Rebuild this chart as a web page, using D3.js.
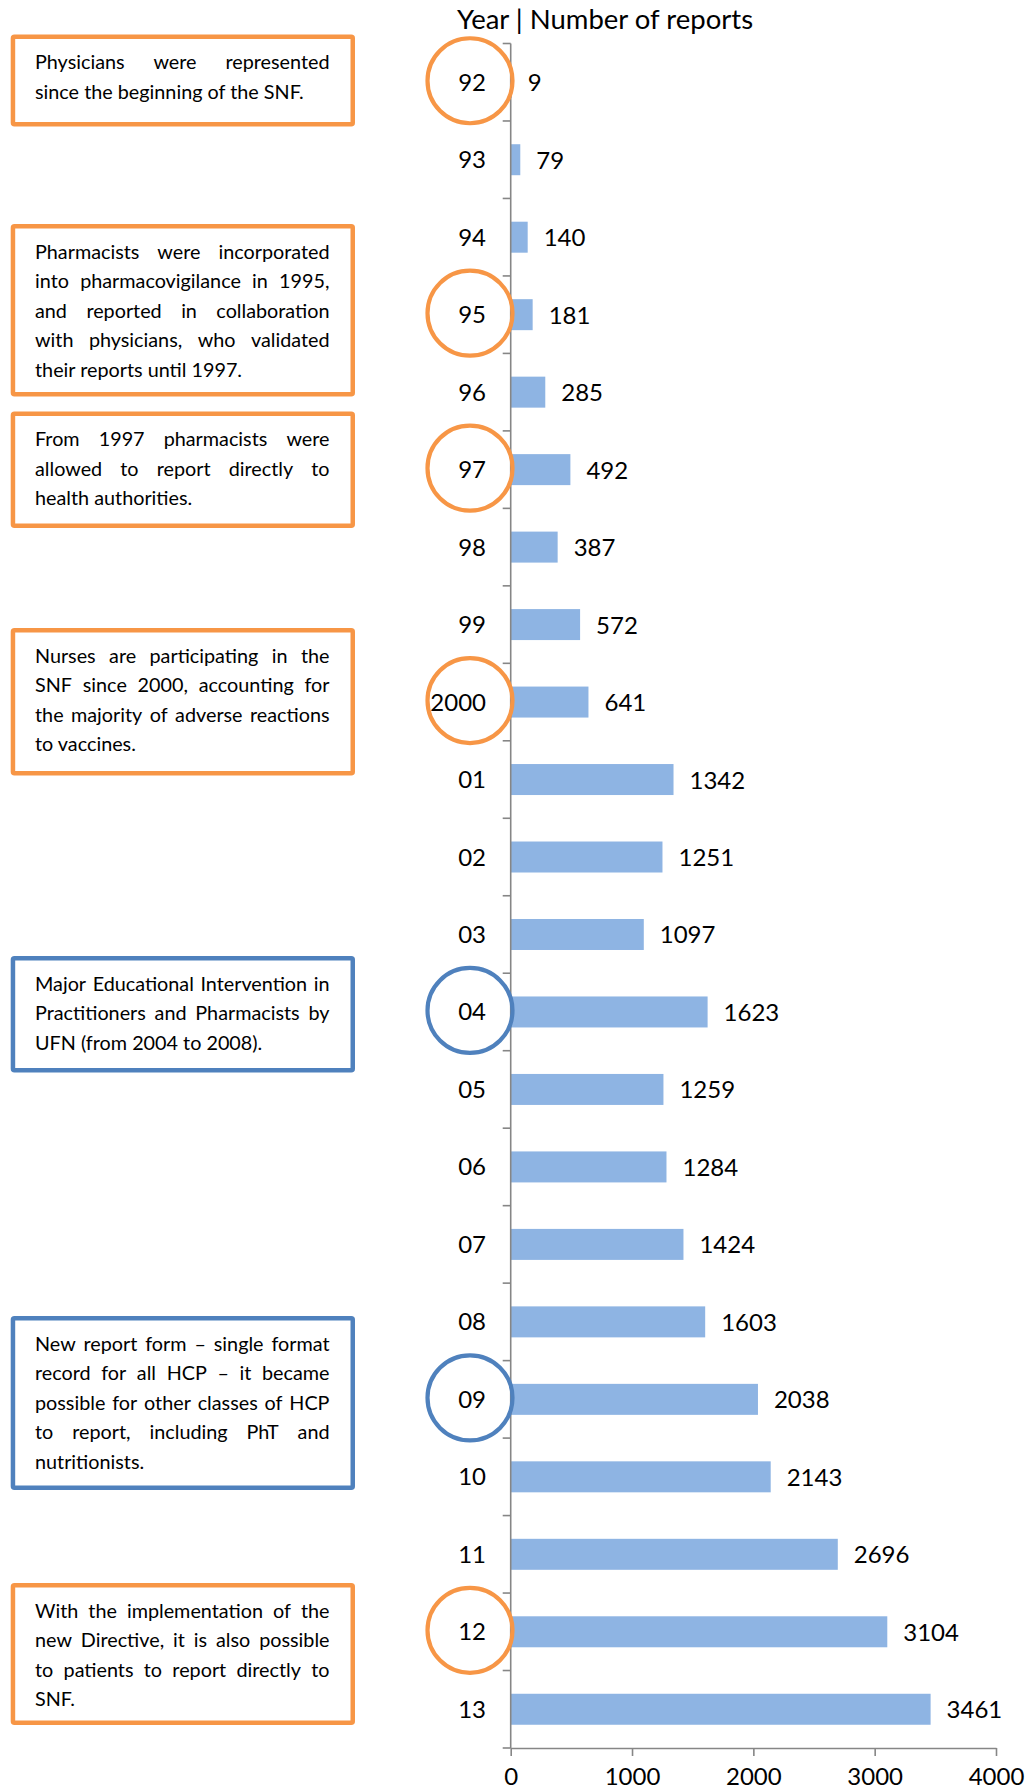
<!DOCTYPE html>
<html>
<head>
<meta charset="utf-8">
<script src="https://cdn.jsdelivr.net/npm/d3@7"></script>
<style>
  html, body { margin: 0; padding: 0; background: #fff; }
  svg { display: block; }
  text { font-family: Lato, "Open Sans", sans-serif; fill: #000; }
</style>
</head>
<body>
<svg id="chart" width="1027" height="1791"></svg>
<script>
// ---------------- DATA ----------------
const years = ["92","93","94","95","96","97","98","99","2000","01","02","03","04","05","06","07","08","09","10","11","12","13"];
const reports = [9,79,140,181,285,492,387,572,641,1342,1251,1097,1623,1259,1284,1424,1603,2038,2143,2696,3104,3461];
const xTicks = [0,1000,2000,3000,4000];
const axisTitle = "Year | Number of reports";

const noteYears = ["92","95","97","2000","04","09","12"];
const noteLines = [
  ["Physicians were represented", "since the beginning of the SNF."],
  ["Pharmacists were incorporated", "into pharmacovigilance in 1995,", "and reported in collaboration", "with physicians, who validated", "their reports until 1997."],
  ["From 1997 pharmacists were", "allowed to report directly to", "health authorities."],
  ["Nurses are participating in the", "SNF since 2000, accounting for", "the majority of adverse reactions", "to vaccines."],
  ["Major Educational Intervention in", "Practitioners and Pharmacists by", "UFN (from 2004 to 2008)."],
  ["New report form \u2013 single format", "record for all HCP \u2013 it became", "possible for other classes of HCP", "to report, including PhT and", "nutritionists."],
  ["With the implementation of the", "new Directive, it is also possible", "to patients to report directly to", "SNF."]
];

// ---------------- LAYOUT / STYLE ----------------
const ORANGE = "#F79646", BLUE = "#4F81BD", BAR = "#8EB4E3", AXIS = "#868686";
const noteColors = [ORANGE, ORANGE, ORANGE, ORANGE, BLUE, BLUE, ORANGE];
const boxTops =    [34.5, 224, 411.5, 628, 956, 1316, 1583];
const boxBottoms = [126.5, 396.5, 528, 775.5, 1072.5, 1490, 1725];
const boxLeft = 10.7, boxRight = 355, boxStroke = 4.5;
const textLeft = 35, textRight = 329.5, lineH = 29.5, firstBase = 34.5;
const circleX = 470, circleR = 42.5;
const labelSize = 24, noteSize = 19.8, titleSize = 27.5, minGap = 5;

function draw() {
const svg = d3.select("#chart");
svg.selectAll("*").remove();
const defs = svg.append("defs");
const f = defs.append("filter").attr("id","shadow").attr("x","-10%").attr("y","-200%").attr("width","120%").attr("height","500%");
f.append("feDropShadow").attr("dx",1).attr("dy",3).attr("stdDeviation",1.8)
  .attr("flood-color","#000").attr("flood-opacity",0.35);

const y = d3.scaleBand().domain(years).range([43.5, 1748]).paddingInner(0.6).paddingOuter(0.3);
const x = d3.scaleLinear().domain([0, 4000]).range([510.7, 996]);
const step = y.step();
const bandCenter = d => y(d) + y.bandwidth() / 2;

// bars
svg.append("g").selectAll("rect").data(years).join("rect")
  .attr("x", x(0))
  .attr("y", d => y(d))
  .attr("width", (d, i) => x(reports[i]) - x(0))
  .attr("height", y.bandwidth())
  .attr("fill", BAR);

// value labels
svg.append("g").selectAll("text").data(years).join("text")
  .attr("x", (d, i) => x(reports[i]) + 16)
  .attr("y", d => bandCenter(d) + 9)
  .style("font-size", labelSize + "px")
  .text((d, i) => reports[i]);

// category labels
svg.append("g").selectAll("text").data(years).join("text")
  .attr("x", 486)
  .attr("y", d => bandCenter(d) + 8.5)
  .attr("text-anchor", "end")
  .style("font-size", labelSize + "px")
  .text(d => d);

// x axis
const xAxis = svg.append("g").attr("transform", `translate(0,${y.range()[1]})`)
  .call(d3.axisBottom(x).tickValues(xTicks).tickSize(8).tickSizeOuter(0).tickFormat(d3.format("d")));
xAxis.select(".domain").attr("stroke", AXIS).attr("stroke-width", 1.6);
xAxis.selectAll(".tick line").attr("stroke", AXIS).attr("stroke-width", 1.6);
xAxis.selectAll(".tick text").attr("y", 37).attr("dy", null)
  .style("font-size", labelSize + "px").style("font-family", "Lato, sans-serif").attr("fill", "#000");

// y axis line + ticks at band boundaries
const yAxis = svg.append("g");
yAxis.append("line").attr("x1", x(0)).attr("x2", x(0))
  .attr("y1", y.range()[0]).attr("y2", y.range()[1])
  .attr("stroke", AXIS).attr("stroke-width", 1.6);
const bounds = years.map(d => y(d) - step * y.paddingOuter()).concat([y.range()[1]]);
yAxis.selectAll("line.t").data(bounds).join("line").attr("class","t")
  .attr("x1", x(0) - 8).attr("x2", x(0))
  .attr("y1", d => d).attr("y2", d => d)
  .attr("stroke", AXIS).attr("stroke-width", 1.6);

// axis title
svg.append("text").attr("x", 457).attr("y", 29)
  .style("font-size", titleSize + "px").text(axisTitle);

// annotations
noteYears.forEach((yr, i) => {
  const col = noteColors[i];
  const cy = bandCenter(yr) - 1.5;
  const g = svg.append("g");
  g.append("line").attr("x1", boxRight).attr("x2", circleX - circleR)
    .attr("y1", cy).attr("y2", cy)
    .attr("stroke", col).attr("stroke-width", 4.2)
    .attr("filter", "url(#shadow)");
  g.append("rect")
    .attr("x", boxLeft + boxStroke / 2).attr("y", boxTops[i] + boxStroke / 2)
    .attr("width", boxRight - boxLeft - boxStroke).attr("height", boxBottoms[i] - boxTops[i] - boxStroke)
    .attr("rx", 1.5)
    .attr("fill", "#fff").attr("stroke", col).attr("stroke-width", boxStroke);
  g.append("circle").attr("cx", circleX).attr("cy", cy).attr("r", circleR)
    .attr("fill", "none").attr("stroke", col).attr("stroke-width", 4.2);
  const lines = noteLines[i];
  const avail = textRight - textLeft;
  lines.forEach((line, li) => {
    const ty = boxTops[i] + firstBase + li * lineH;
    if (li === lines.length - 1) {
      g.append("text").attr("x", textLeft).attr("y", ty)
        .style("font-size", noteSize + "px").text(line);
      return;
    }
    const words = line.split(" ");
    const lg = g.append("g");
    const els = words.map(w => lg.append("text").attr("y", ty)
      .style("font-size", noteSize + "px").text(w));
    let widths = els.map(e => e.node().getComputedTextLength());
    let total = d3.sum(widths);
    const n = words.length - 1;
    if ((avail - total) / n < minGap) {
      const k = (avail - n * minGap) / total;
      els.forEach(e => e.style("font-size", (noteSize * k) + "px"));
      widths = els.map(e => e.node().getComputedTextLength());
      total = d3.sum(widths);
    }
    const gap = (avail - total) / n;
    let xx = textLeft;
    els.forEach((e, j) => { e.attr("x", xx); xx += widths[j] + gap; });
  });
});
}

draw();
if (document.fonts && document.fonts.load) {
  Promise.all([
    document.fonts.load("19.8px Lato", "abc\u2013"),
    document.fonts.load("24px Lato", "0123456789")
  ]).then(() => document.fonts.ready).then(draw).catch(() => {});
}
</script>
</body>
</html>
